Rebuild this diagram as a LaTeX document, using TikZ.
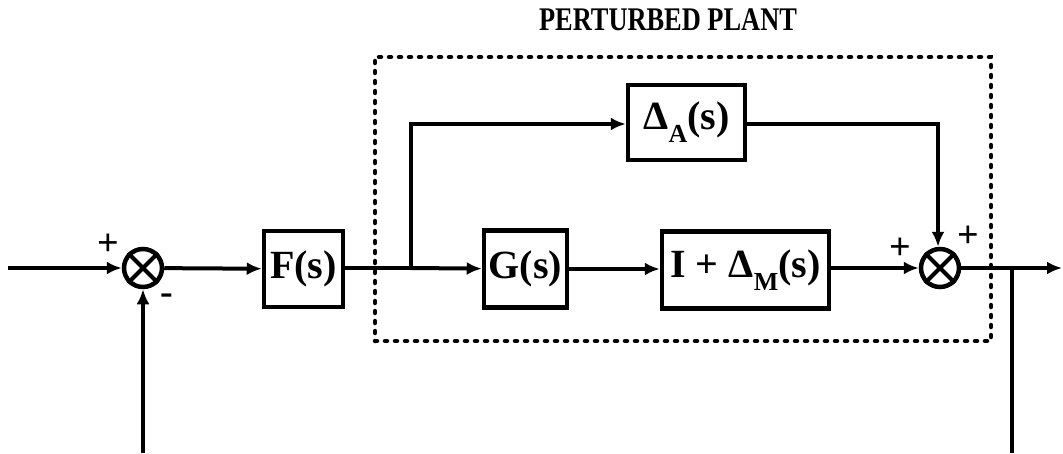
\documentclass[tikz,border=0pt]{standalone}
\usepackage{fontspec}
\setmainfont{Liberation Serif}
\usetikzlibrary{arrows.meta}
\newcommand{\lowsub}[1]{\raisebox{-0.32em}{\fontsize{26}{26}\selectfont #1}}
\begin{document}
\begin{tikzpicture}[x=1pt,y=-1pt,
  blk/.style={draw,line width=4.5pt,inner sep=0pt,font=\fontsize{40}{40}\selectfont\bfseries},
  sumj/.style={circle,draw,line width=4.5pt,minimum size=38pt,inner sep=0pt},
  conn/.style={line width=4pt,-{Latex[length=15pt,width=13pt]}},
  wire/.style={line width=4pt},
  sgn/.style={font=\fontsize{38}{38}\selectfont\bfseries,inner sep=0pt},
  dotbox/.style={draw,line width=4.5pt,line cap=round,dash pattern=on 2pt off 8pt,inner sep=0pt}]
\useasboundingbox (0,0) rectangle (1063,453);
% perturbed plant frame and title
\node[dotbox,minimum width=616pt,minimum height=284pt] (plant) at (683,199) {};
\node[font=\fontsize{33}{33}\selectfont\bfseries,xscale=0.8,inner sep=0pt] (title) at (668,20) {PERTURBED PLANT};
% summing junctions
\node[sumj] (s1) at (143,268) {};
\draw[wire] (s1.north west) -- (s1.south east) (s1.north east) -- (s1.south west);
\node[sumj] (s2) at (940,268) {};
\draw[wire] (s2.north west) -- (s2.south east) (s2.north east) -- (s2.south west);
% blocks
\node[blk,minimum width=79pt,minimum height=76pt] (F) at (303.5,269) {F(s)};
\node[blk,minimum width=83pt,minimum height=77pt] (G) at (525.5,269) {G(s)};
\node[blk,minimum width=167pt,minimum height=77pt] (Dm) at (745.5,270) {I + Δ\lowsub{M}(s)};
\node[blk,minimum width=117pt,minimum height=75pt] (Da) at (686.5,122.5) {Δ\lowsub{A}(s)};
% coordinates
\coordinate (in) at (8,268);
\coordinate (br) at (411,268);
\coordinate (tap) at (1012,268);
\coordinate (out) at (1062,268);
\coordinate (fb1) at (143,453);
\coordinate (fb2) at (1012,453);
\coordinate (up) at (411,124);
\coordinate (dn) at (938,124);
% connectors
\draw[conn] (in) -- (s1);
\draw[conn] (s1) -- (F);
\draw[wire] (F.east |- br) -- (br);
\draw[conn] (br) -- (G);
\draw[conn] (G) -- (Dm.west |- G);
\draw[conn] (Dm.east |- s2) -- (s2);
\draw[conn] (br) -- (up) -- (Da.west |- up);
\draw[conn] (Da.east |- dn) -- (dn) -- (s2.north -| dn);
\draw[conn] (s2) -- (out);
\draw[wire] (tap) -- (fb2);
\draw[conn] (fb1) -- (s1);
% signs
\node[sgn] (p1) at (108,245) {+};
\node[sgn] (m1) at (167,299) {-};
\node[sgn] (p2) at (900,249) {+};
\node[sgn] (p3) at (968,237) {+};
\end{tikzpicture}
\end{document}
